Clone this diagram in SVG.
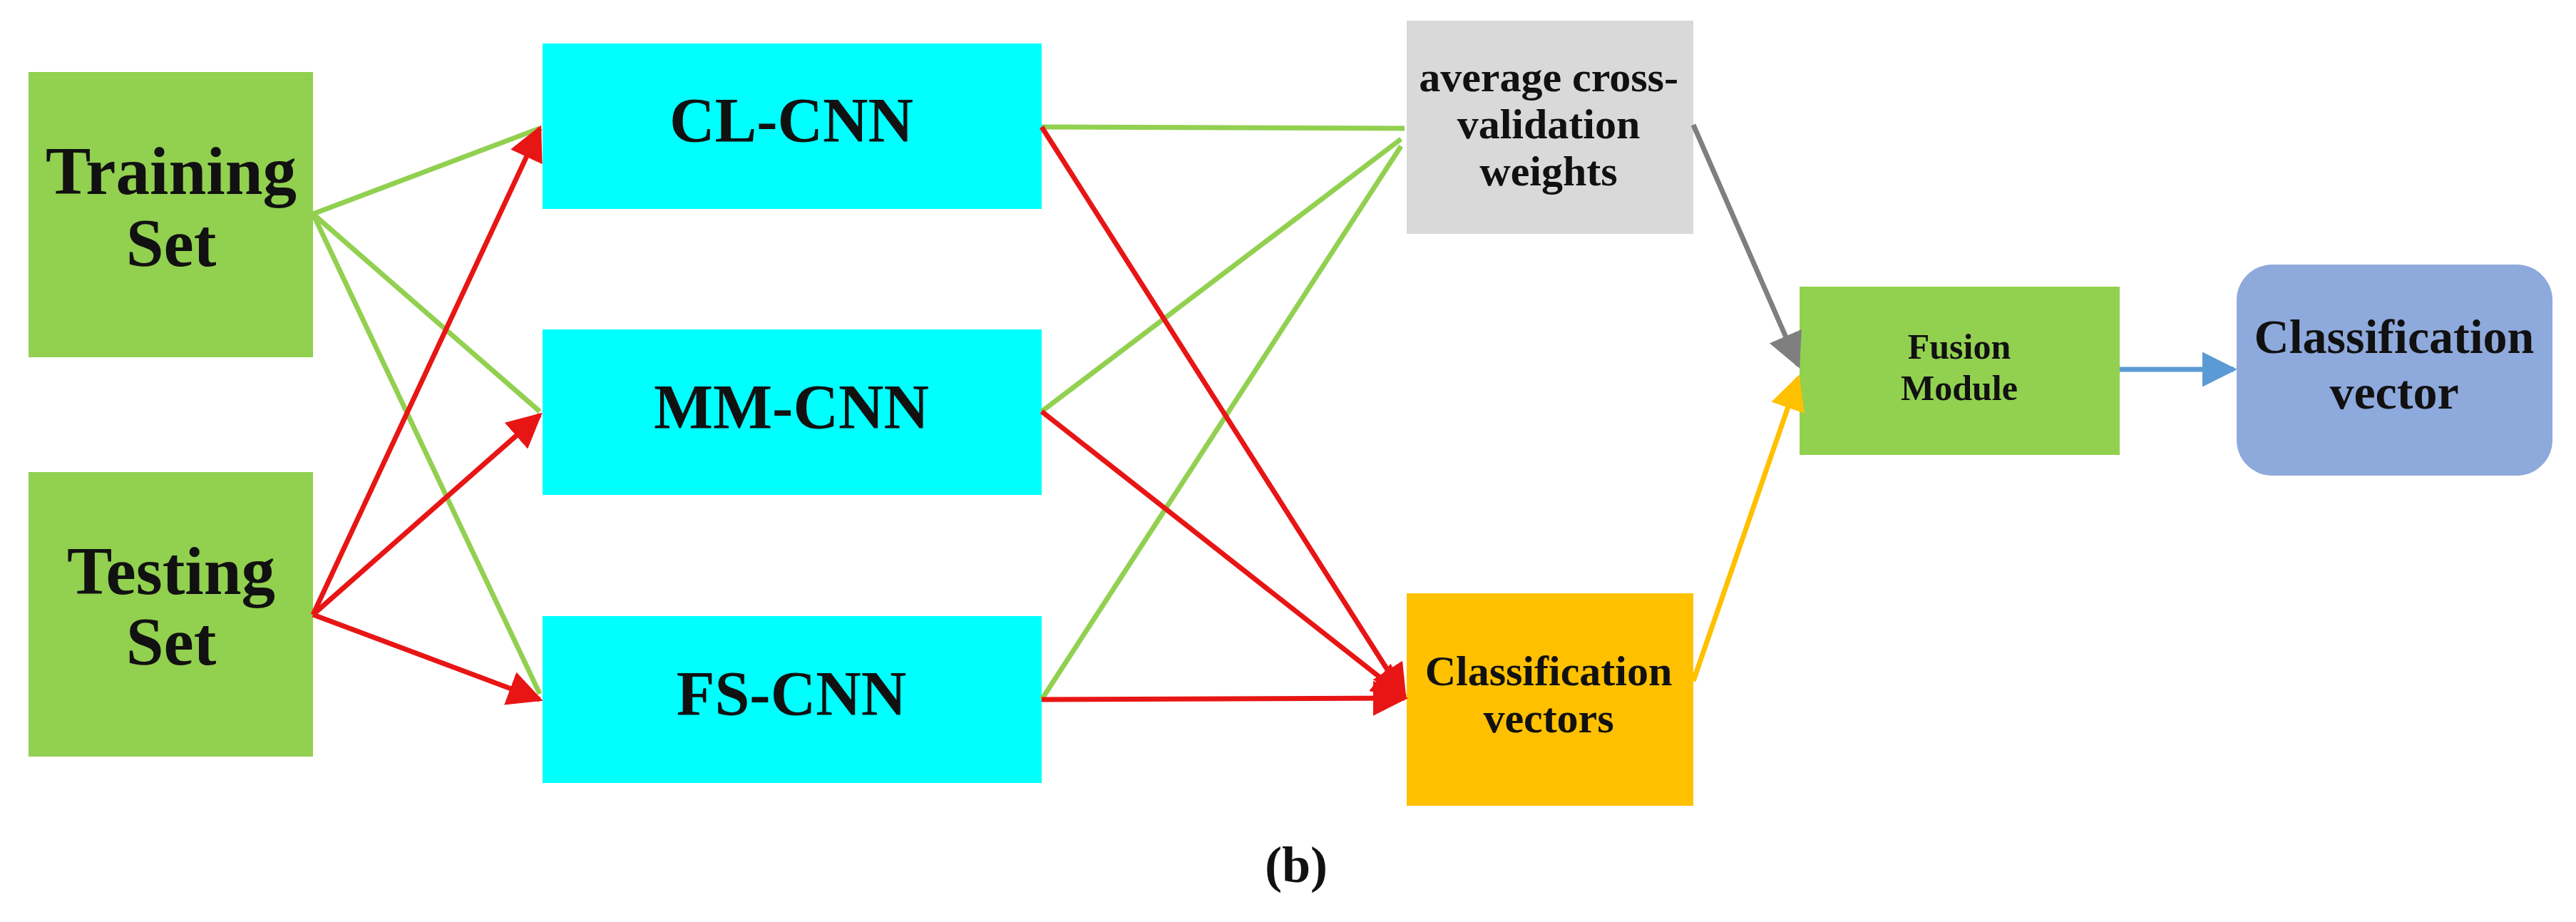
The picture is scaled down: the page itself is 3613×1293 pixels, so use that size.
<svg xmlns="http://www.w3.org/2000/svg" width="3613" height="1293" viewBox="0 0 3613 1293">
<style>
text{font-family:"Liberation Serif","DejaVu Serif",serif;font-weight:bold;fill:#111;text-anchor:middle}
.g{stroke:#92D050}.r{stroke:#E81515}
line{stroke-width:7}
</style>
<defs>
<marker id="ag" viewBox="0 0 10 10" refX="9" refY="5" markerWidth="7" markerHeight="7" markerUnits="userSpaceOnUse" orient="auto"><path d="M0,0L10,5L0,10z" fill="#92D050"/></marker>
<marker id="ar" viewBox="0 0 10 10" refX="9" refY="5" markerWidth="7" markerHeight="7" orient="auto"><path d="M0,0L10,5L0,10z" fill="#E81515"/></marker>
<marker id="agr" viewBox="0 0 10 10" refX="9" refY="5" markerWidth="7" markerHeight="7" orient="auto"><path d="M0,0L10,5L0,10z" fill="#7F7F7F"/></marker>
<marker id="ay" viewBox="0 0 10 10" refX="9" refY="5" markerWidth="7" markerHeight="7" orient="auto"><path d="M0,0L10,5L0,10z" fill="#FFC000"/></marker>
<marker id="ab" viewBox="0 0 10 10" refX="9" refY="5" markerWidth="7" markerHeight="7" orient="auto"><path d="M0,0L10,5L0,10z" fill="#5B9BD5"/></marker>
</defs>
<rect width="3613" height="1293" fill="#fff"/>
<g id="training"><rect x="40" y="101" width="399" height="400" fill="#92D050"/><text x="240" y="272" font-size="95">Training</text><text x="240" y="373" font-size="95">Set</text></g>
<g id="testing"><rect x="40" y="662" width="399" height="399" fill="#92D050"/><text x="240" y="833" font-size="95">Testing</text><text x="240" y="932" font-size="95">Set</text></g>
<g id="clcnn"><rect x="761" y="61" width="700" height="232" fill="#00FFFF"/><text x="1110" y="198" font-size="88">CL-CNN</text></g>
<g id="mmcnn"><rect x="761" y="462" width="700" height="232" fill="#00FFFF"/><text x="1110" y="600" font-size="88">MM-CNN</text></g>
<g id="fscnn"><rect x="761" y="864" width="700" height="234" fill="#00FFFF"/><text x="1110" y="1002" font-size="88">FS-CNN</text></g>
<g id="weights"><rect x="1973" y="29" width="402" height="299" fill="#D9D9D9"/><text x="2172" y="128" font-size="60">average cross-</text><text x="2172" y="194" font-size="60">validation</text><text x="2172" y="260" font-size="60">weights</text></g>
<g id="vectors"><rect x="1973" y="832" width="402" height="298" fill="#FFC000"/><text x="2172" y="961" font-size="60">Classification</text><text x="2172" y="1027" font-size="60">vectors</text></g>
<g id="fusion"><rect x="2524" y="402" width="449" height="236" fill="#92D050"/><text x="2748" y="503" font-size="50">Fusion</text><text x="2748" y="561" font-size="50">Module</text></g>
<g id="output"><rect x="3137" y="371" width="443" height="296" rx="50" fill="#8EA9DB"/><text x="3358" y="495" font-size="68">Classification</text><text x="3358" y="573" font-size="68">vector</text></g>
<g id="connectors" fill="none">
<line class="g" x1="439" y1="300" x2="757" y2="180" marker-end="url(#ag)"/>
<line class="g" x1="439" y1="300" x2="757" y2="577" marker-end="url(#ag)"/>
<line class="g" x1="439" y1="300" x2="757" y2="973" marker-end="url(#ag)"/>
<line class="r" x1="439" y1="862" x2="757" y2="180" marker-end="url(#ar)"/>
<line class="r" x1="439" y1="862" x2="757" y2="582" marker-end="url(#ar)"/>
<line class="r" x1="439" y1="862" x2="757" y2="981" marker-end="url(#ar)"/>
<line class="g" x1="1461" y1="178" x2="1970" y2="180" marker-end="url(#ag)"/>
<line class="g" x1="1461" y1="577" x2="1965" y2="195" marker-end="url(#ag)"/>
<line class="g" x1="1461" y1="981" x2="1965" y2="205" marker-end="url(#ag)"/>
<line class="r" x1="1461" y1="178" x2="1970" y2="977" marker-end="url(#ar)"/>
<line class="r" x1="1461" y1="577" x2="1970" y2="977" marker-end="url(#ar)"/>
<line class="r" x1="1461" y1="981" x2="1970" y2="979" marker-end="url(#ar)"/>
<line stroke="#7F7F7F" x1="2375" y1="175" x2="2522" y2="512" marker-end="url(#agr)"/>
<line stroke="#FFC000" x1="2375" y1="955" x2="2522" y2="530" marker-end="url(#ay)"/>
<line stroke="#5B9BD5" x1="2973" y1="518" x2="3133" y2="518" marker-end="url(#ab)"/>
</g>
<text x="1818" y="1237" font-size="72" font-weight="normal">(<tspan font-weight="bold">b</tspan>)</text>
</svg>
